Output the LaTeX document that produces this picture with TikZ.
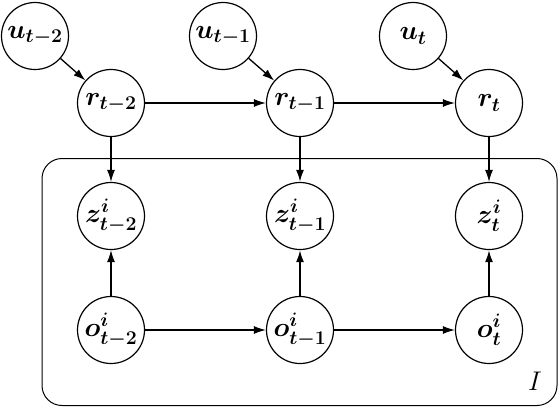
\RequirePackage{fix-cm}
\documentclass[tikz,border=0pt]{standalone}
\usetikzlibrary{arrows.meta}
\DeclareMathSizes{27}{27}{19.5}{14}
\begin{document}
\begin{tikzpicture}[x=1pt,y=-1pt,
  var/.style={circle,draw,line width=1.2pt,minimum size=67pt,inner sep=0pt,font=\fontsize{27}{32}\selectfont\boldmath},
  edge/.style={line width=1.3pt,-{Latex[length=12pt,width=8pt]}},
  thickedge/.style={line width=1.9pt,-{Latex[length=12pt,width=8pt]}},
  plate/.style={draw,line width=1pt,rounded corners=20pt}]
\useasboundingbox (0,0) rectangle (560,408);
\node[plate,minimum width=515pt,minimum height=247pt,inner sep=0pt] (plate) at (299.5,282) {};
\node[var] (u2) at (35,36) {$u_{t-2}$};
\node[var] (u1) at (223,36) {$u_{t-1}$};
\node[var] (u0) at (413,36) {$u_{t}$};
\node[var] (r2) at (111,103) {$r_{t-2}$};
\node[var] (r1) at (300,103) {$r_{t-1}$};
\node[var] (r0) at (489,103) {$r_{t}$};
\node[var] (z2) at (111,216) {$z^i_{t-2}$};
\node[var] (z1) at (300,216) {$z^i_{t-1}$};
\node[var] (z0) at (489,216) {$z^i_{t}$};
\node[var] (o2) at (111,330) {$o^i_{t-2}$};
\node[var] (o1) at (300,330) {$o^i_{t-1}$};
\node[var] (o0) at (489,330) {$o^i_{t}$};
\node[font=\fontsize{27}{32}\selectfont] (lab) at (535,381) {$I$};
\draw[edge] (u2) -- (r2);
\draw[edge] (u1) -- (r1);
\draw[edge] (u0) -- (r0);
\draw[edge] (r2) -- (r1);
\draw[edge] (r1) -- (r0);
\draw[edge] (o2) -- (o1);
\draw[edge] (o1) -- (o0);
\draw[edge] (r2) -- (z2);
\draw[thickedge] (r1) -- (z1);
\draw[edge] (r0) -- (z0);
\draw[edge] (o2) -- (z2);
\draw[thickedge] (o1) -- (z1);
\draw[thickedge] (o0) -- (z0);
\end{tikzpicture}
\end{document}
